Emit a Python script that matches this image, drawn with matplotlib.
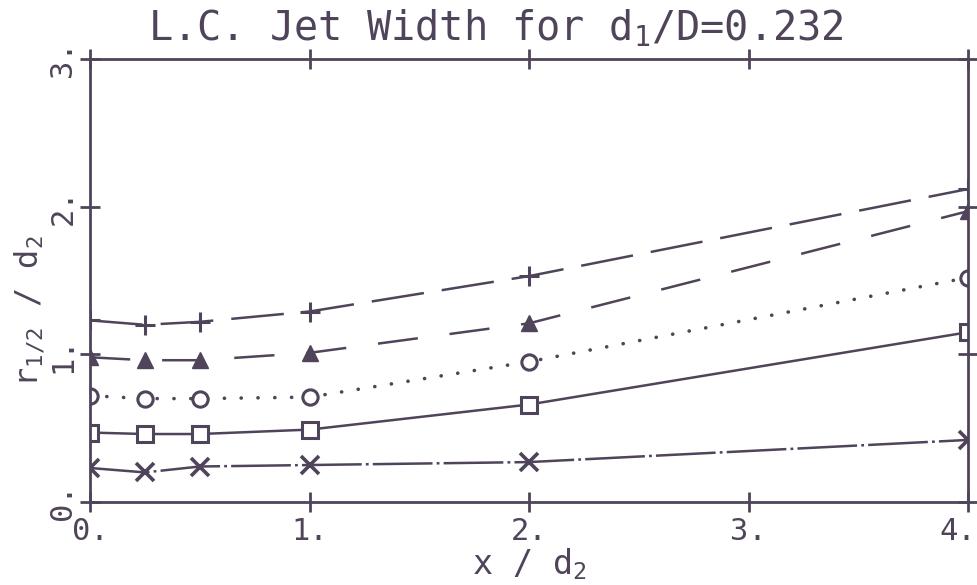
import matplotlib
matplotlib.use("Agg")
import matplotlib.pyplot as plt
import matplotlib.transforms as mtransforms

# ---- data ----
x_vals = [0.0, 0.25, 0.5, 1.0, 2.0, 4.0]
plus_vals = [1.23, 1.20, 1.22, 1.29, 1.53, 2.12]
tri_vals = [0.98, 0.96, 0.96, 1.01, 1.21, 1.97]
circ_vals = [0.72, 0.70, 0.70, 0.71, 0.95, 1.52]
sq_vals = [0.47, 0.46, 0.46, 0.49, 0.66, 1.15]
x_mark_vals = [0.23, 0.20, 0.24, 0.25, 0.27, 0.42]
xticks = [0, 1, 2, 3, 4]
xtick_labels = ["0.", "1.", "2.", "3.", "4."]
yticks = [0, 1, 2, 3]
ytick_labels = ["0.", "1.", "2.", "3."]

C = "#4f4459"
plt.rcParams["font.family"] = ["DejaVu Sans Mono"]
plt.rcParams["mathtext.fontset"] = "custom"
plt.rcParams["mathtext.rm"] = "DejaVu Sans Mono"
plt.rcParams["mathtext.it"] = "DejaVu Sans Mono"
plt.rcParams["mathtext.bf"] = "DejaVu Sans Mono"
plt.rcParams["lines.scale_dashes"] = False

fig = plt.figure(figsize=(9.78, 5.85), dpi=100)
ax = fig.add_axes([0.092, 0.142, 0.898, 0.757])

lw = 1.8
ax.plot(x_vals, plus_vals, color=C, lw=lw, dashes=(38, 13), marker="+",
        ms=15, mew=2.2, mec=C)
ax.plot(x_vals, tri_vals, color=C, lw=lw, dashes=(29, 23), marker="^",
        ms=12, mfc=C, mec=C)
ax.plot(x_vals, circ_vals, color=C, lw=2.6, dashes=(0.1, 12),
        dash_capstyle="round", marker="o", ms=11, mfc="white", mec=C, mew=2.2)
ax.plot(x_vals, sq_vals, color=C, lw=lw, ls="-", marker="s",
        ms=11, mfc="white", mec=C, mew=2.2)
ax.plot(x_vals, x_mark_vals, color=C, lw=lw, dashes=(43, 3, 2, 3),
        marker="x", ms=13, mew=2.6, mec=C)

ax.set_xlim(0, 4)
ax.set_ylim(0, 3)
ax.set_xticks(xticks)
ax.set_xticklabels(xtick_labels)
ax.set_yticks(yticks)
ax.set_yticklabels(ytick_labels, rotation=90, va="center")

for s in ax.spines.values():
    s.set_color(C)
    s.set_linewidth(2.0)
ax.tick_params(direction="inout", length=14, width=2.0, color=C,
               labelcolor=C, labelsize=22, top=True, right=True)
ax.tick_params(axis="x", pad=4)
ax.tick_params(axis="y", pad=2)

# nudge last x tick label so it stays inside the figure
last = ax.get_xticklabels()[-1]
last.set_transform(last.get_transform() +
                   mtransforms.ScaledTranslation(-0.1, 0, fig.dpi_scale_trans))

ax.set_title("L.C. Jet Width for d$_1$/D=0.232", color=C, fontsize=29,
             pad=14, x=0.462)
ax.set_xlabel("x / d$_2$", color=C, fontsize=24, labelpad=0)
ax.set_ylabel("r$_{1/2}$ / d$_2$", color=C, fontsize=23)
ax.yaxis.set_label_coords(-0.05, 0.43)

fig.savefig("out.png", dpi=100, facecolor="white")
